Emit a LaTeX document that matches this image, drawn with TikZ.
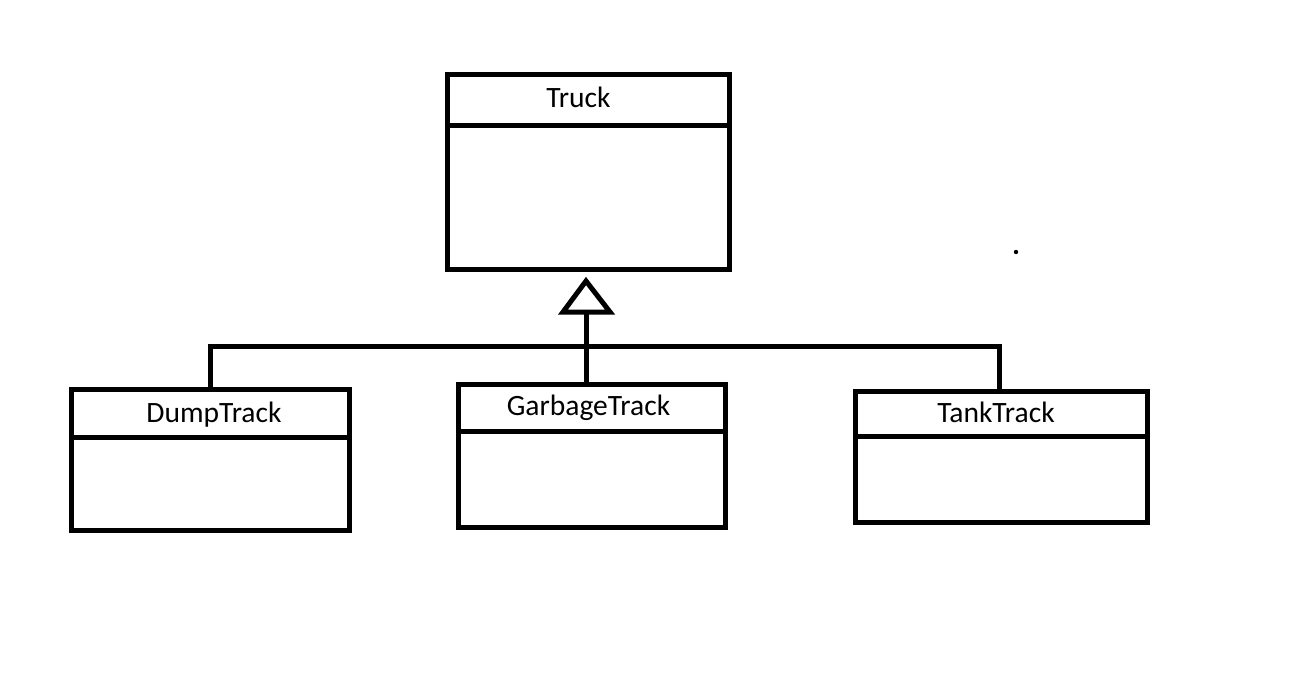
\documentclass[tikz,border=0pt]{standalone}
\usepackage{fontspec}
\setmainfont{Carlito}
\usetikzlibrary{calc}
\def\u{0.02cm}
\tikzset{
  classbox/.style={draw=black, line width=5*\u, inner sep=0pt, outer sep=0pt, fill=none},
  divider/.style={line width=5*\u},
  conn/.style={line width=5*\u},
  title/.style={anchor=base, inner sep=0pt, font=\fontsize{16.8pt}{20pt}\selectfont}
}
\begin{document}
\begin{tikzpicture}[x=0.02cm,y=-0.02cm]
\useasboundingbox (0,0) rectangle (1308,696);
\fill[white] (0,0) rectangle (1308,696);
% classes
\node[classbox, minimum width=282*\u, minimum height=194*\u] (truck) at (588,172) {};
\node[classbox, minimum width=278*\u, minimum height=141*\u] (dump) at (210,459.5) {};
\node[classbox, minimum width=267*\u, minimum height=143*\u] (garbage) at (591.5,455.5) {};
\node[classbox, minimum width=292*\u, minimum height=131*\u] (tank) at (1001,456.5) {};
% dividers
\draw[divider] (truck.west |- 0,126) -- (truck.east |- 0,126);
\draw[divider] (dump.west |- 0,437) -- (dump.east |- 0,437);
\draw[divider] (garbage.west |- 0,431) -- (garbage.east |- 0,431);
\draw[divider] (tank.west |- 0,436) -- (tank.east |- 0,436);
% titles
\node[title] (truckT) at (578.5,108) {Truck};
\node[title] (dumpT) at (214,422) {DumpTrack};
\node[title] (garbageT) at (588.5,415) {GarbageTrack};
\node[title] (tankT) at (996,422) {TankTrack};
% generalization
\coordinate (apex) at (586,281);
\coordinate (bus) at (586,346);
\draw[conn, line join=miter] (apex) -- ++(-23,31) -- ++(47,0) -- cycle;
\draw[conn] (apex |- garbage.north) -- ($(apex)+(0,31)$);
\draw[conn] (dump.north) |- (bus) -| (tank.north -| 999,0);
% stray dot
\fill (1016,252) circle (2.2);
\end{tikzpicture}
\end{document}
